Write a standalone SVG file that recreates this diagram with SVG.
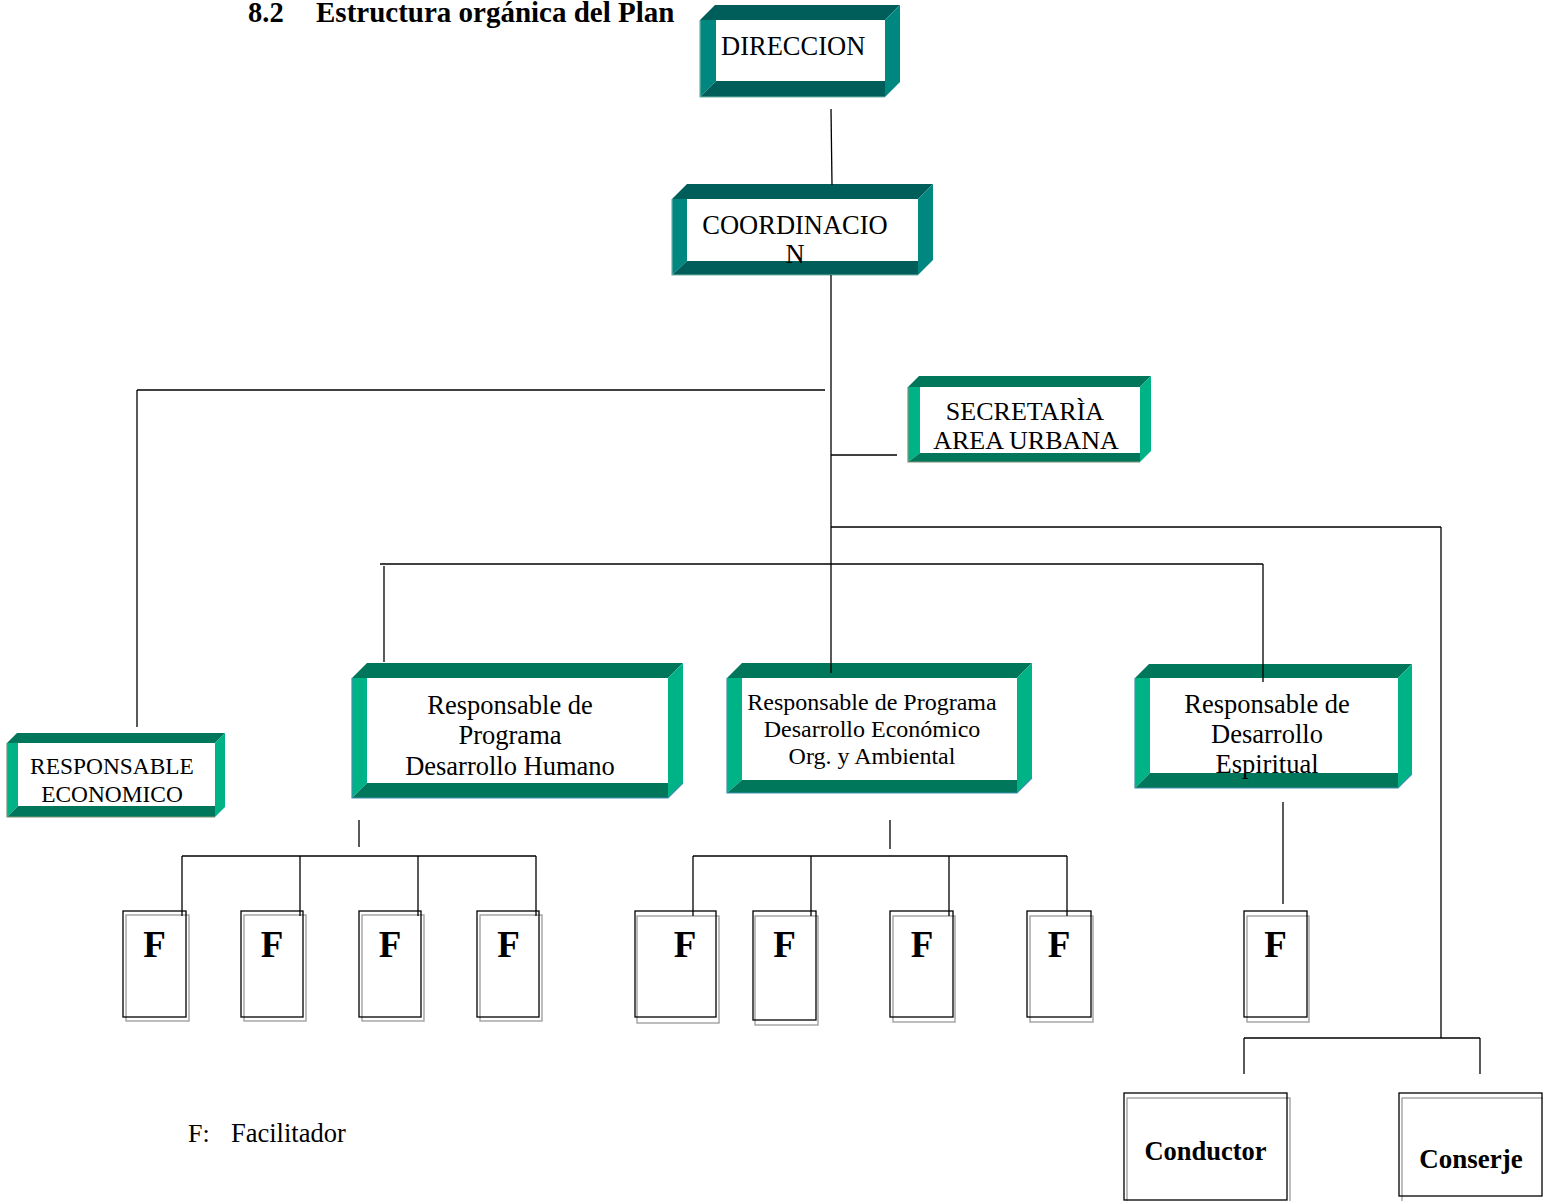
<svg xmlns="http://www.w3.org/2000/svg" width="1543" height="1201" viewBox="0 0 1543 1201">
<style>
  .bg{fill:#ffffff}
  .dk1{fill:#005e5a}
  .lt1{fill:#00877f}
  .dk2{fill:#00765a}
  .lt2{fill:#00b386}
  .ed1{stroke:#6fb3a8;stroke-width:1.2;fill:none}
  .ed2{stroke:#3f8fb0;stroke-width:1.2;fill:none}
  .ed3{stroke:#7d9272;stroke-width:1.2;fill:none}
  .w{fill:#ffffff}
  .ln{stroke:#000;stroke-width:1.3;fill:none}
  .fb{stroke:#000;stroke-width:1.3;fill:none}
  .fs{stroke:#9a9a9a;stroke-width:1.3;fill:none}
  .t{font-family:"Liberation Serif","Times New Roman",serif;fill:#000}
  .b{font-weight:bold}
</style>
<rect class="bg" x="0" y="0" width="1543" height="1201"/>

<text class="t b" x="248" y="22" font-size="28.5">8.2</text>
<text class="t b" x="316" y="22" font-size="29">Estructura orgánica del Plan</text>

<g id="direccion">
  <polygon class="dk1" points="700,20 715,5 900,5 885,20"/>
  <polygon class="lt1" points="885,20 900,5 900,82 885,97"/>
  <rect class="w" x="716" y="20" width="169" height="61"/>
  <polygon class="lt1" points="700,20 716,20 716,81 700,97"/>
  <polygon class="dk1" points="700,97 716,81 885,81 885,97"/>
  <polyline class="ed1" points="700,20 700,97 885,97"/>
  <text class="t" x="721" y="55" font-size="26.5">DIRECCION</text>
</g>

<g id="coordinacion">
  <polygon class="dk1" points="672,199 687,184 933,184 918,199"/>
  <polygon class="lt1" points="918,199 933,184 933,260 918,275"/>
  <rect class="w" x="687" y="199" width="231" height="62"/>
  <polygon class="lt1" points="672,199 687,199 687,261 672,275"/>
  <polygon class="dk1" points="672,275 687,261 918,261 918,275"/>
  <polyline class="ed1" points="672,199 672,275 918,275"/>
  <text class="t" x="795" y="234" font-size="26.5" text-anchor="middle">COORDINACIO</text>
  <text class="t" x="795" y="263" font-size="26.5" text-anchor="middle">N</text>
</g>

<g id="secretaria">
  <polygon class="dk2" points="908,387 919,376 1151,376 1140,387"/>
  <polygon class="lt2" points="1140,387 1151,376 1151,451 1140,462"/>
  <rect class="w" x="920" y="387" width="220" height="66"/>
  <polygon class="lt2" points="908,387 920,387 920,453 908,462"/>
  <polygon class="dk2" points="908,462 920,453 1140,453 1140,462"/>
  <polyline class="ed3" points="908,387 908,462 1140,462"/>
  <text class="t" x="1025" y="420" font-size="26" text-anchor="middle">SECRETARÌA</text>
  <text class="t" x="1026" y="449" font-size="26" text-anchor="middle">AREA URBANA</text>
</g>

<g id="resp-economico">
  <polygon class="dk2" points="7,743 17,733 225,733 215,743"/>
  <polygon class="lt2" points="215,743 225,733 225,807 215,817"/>
  <rect class="w" x="18" y="743" width="197" height="63"/>
  <polygon class="lt2" points="7,743 18,743 18,806 7,817"/>
  <polygon class="dk2" points="7,817 18,806 215,806 215,817"/>
  <polyline class="ed3" points="7,743 7,817 215,817"/>
  <text class="t" x="112" y="774" font-size="23.4" text-anchor="middle">RESPONSABLE</text>
  <text class="t" x="112" y="802" font-size="23.4" text-anchor="middle">ECONOMICO</text>
</g>

<g id="resp-humano">
  <polygon class="dk2" points="352,678 367,663 683,663 668,678"/>
  <polygon class="lt2" points="668,678 683,663 683,783 668,798"/>
  <rect class="w" x="367" y="678" width="301" height="105"/>
  <polygon class="lt2" points="352,678 367,678 367,783 352,798"/>
  <polygon class="dk2" points="352,798 367,783 668,783 668,798"/>
  <polyline class="ed2" points="352,678 352,798 668,798 683,783"/>
  <text class="t" x="510" y="714" font-size="26.5" text-anchor="middle">Responsable de</text>
  <text class="t" x="510" y="744" font-size="26.5" text-anchor="middle">Programa</text>
  <text class="t" x="510" y="775" font-size="26.5" text-anchor="middle">Desarrollo Humano</text>
</g>

<g id="resp-economico-org">
  <polygon class="dk2" points="727,678 742,663 1032,663 1017,678"/>
  <polygon class="lt2" points="1017,678 1032,663 1032,778 1017,793"/>
  <rect class="w" x="742" y="678" width="275" height="102"/>
  <polygon class="lt2" points="727,678 742,678 742,780 727,793"/>
  <polygon class="dk2" points="727,793 742,780 1017,780 1017,793"/>
  <polyline class="ed2" points="727,678 727,793 1017,793 1032,778"/>
  <text class="t" x="872" y="710" font-size="24" text-anchor="middle">Responsable de Programa</text>
  <text class="t" x="872" y="737" font-size="24" text-anchor="middle">Desarrollo Económico</text>
  <text class="t" x="872" y="764" font-size="24" text-anchor="middle">Org. y Ambiental</text>
</g>

<g id="resp-espiritual">
  <polygon class="dk2" points="1135,678 1149,664 1412,664 1398,678"/>
  <polygon class="lt2" points="1398,678 1412,664 1412,774 1398,788"/>
  <rect class="w" x="1150" y="678" width="248" height="95"/>
  <polygon class="lt2" points="1135,678 1150,678 1150,773 1135,788"/>
  <polygon class="dk2" points="1135,788 1150,773 1398,773 1398,788"/>
  <polyline class="ed2" points="1135,678 1135,788 1398,788 1412,774"/>
  <text class="t" x="1267" y="713" font-size="26.5" text-anchor="middle">Responsable de</text>
  <text class="t" x="1267" y="743" font-size="26.5" text-anchor="middle">Desarrollo</text>
  <text class="t" x="1267" y="773" font-size="26.5" text-anchor="middle">Espiritual</text>
</g>

<g id="f1">
  <rect class="fs" x="126" y="915" width="63" height="106"/>
  <rect class="fb" x="123" y="911" width="63" height="106"/>
  <text class="t b" x="154.5" y="957" font-size="37" text-anchor="middle">F</text>
</g>
<g id="f2">
  <rect class="fs" x="244" y="915" width="62" height="106"/>
  <rect class="fb" x="241" y="911" width="62" height="106"/>
  <text class="t b" x="272" y="957" font-size="37" text-anchor="middle">F</text>
</g>
<g id="f3">
  <rect class="fs" x="362" y="915" width="62" height="106"/>
  <rect class="fb" x="359" y="911" width="62" height="106"/>
  <text class="t b" x="390" y="957" font-size="37" text-anchor="middle">F</text>
</g>
<g id="f4">
  <rect class="fs" x="480" y="915" width="62" height="106"/>
  <rect class="fb" x="477" y="911" width="62" height="106"/>
  <text class="t b" x="508.5" y="957" font-size="37" text-anchor="middle">F</text>
</g>
<g id="f5">
  <rect class="fs" x="637" y="916" width="82" height="107"/>
  <rect class="fb" x="635" y="911" width="81" height="106"/>
  <text class="t b" x="685" y="957" font-size="37" text-anchor="middle">F</text>
</g>
<g id="f6">
  <rect class="fs" x="755" y="916" width="63" height="109"/>
  <rect class="fb" x="753" y="911" width="63" height="109"/>
  <text class="t b" x="784.5" y="957" font-size="37" text-anchor="middle">F</text>
</g>
<g id="f7">
  <rect class="fs" x="893" y="916" width="62" height="106"/>
  <rect class="fb" x="890" y="911" width="63" height="106"/>
  <text class="t b" x="922" y="957" font-size="37" text-anchor="middle">F</text>
</g>
<g id="f8">
  <rect class="fs" x="1030" y="916" width="63" height="106"/>
  <rect class="fb" x="1027" y="911" width="64" height="106"/>
  <text class="t b" x="1059" y="957" font-size="37" text-anchor="middle">F</text>
</g>
<g id="f9">
  <rect class="fs" x="1247" y="916" width="62" height="106"/>
  <rect class="fb" x="1244" y="911" width="63" height="106"/>
  <text class="t b" x="1275.5" y="957" font-size="37" text-anchor="middle">F</text>
</g>

<g id="conductor">
  <rect class="fs" x="1127" y="1098" width="163" height="106"/>
  <rect class="fb" x="1124" y="1093" width="163" height="107"/>
  <text class="t b" x="1205.5" y="1160" font-size="26.5" text-anchor="middle">Conductor</text>
</g>
<g id="conserje">
  <rect class="fs" x="1402" y="1098" width="143" height="106"/>
  <rect class="fb" x="1399" y="1093" width="143" height="103"/>
  <text class="t b" x="1471" y="1168" font-size="27" text-anchor="middle">Conserje</text>
</g>

<g id="connectors">
  <line class="ln" x1="831" y1="109" x2="832" y2="185"/>
  <line class="ln" x1="831" y1="275" x2="831" y2="673"/>
  <line class="ln" x1="137" y1="390" x2="825" y2="390"/>
  <line class="ln" x1="137" y1="390" x2="137" y2="727"/>
  <line class="ln" x1="831" y1="455" x2="897" y2="455"/>
  <line class="ln" x1="831" y1="527" x2="1441" y2="527"/>
  <line class="ln" x1="1441" y1="527" x2="1441" y2="1038"/>
  <line class="ln" x1="1244" y1="1038" x2="1480" y2="1038"/>
  <line class="ln" x1="1244" y1="1038" x2="1244" y2="1074"/>
  <line class="ln" x1="1480" y1="1038" x2="1480" y2="1074"/>
  <line class="ln" x1="380" y1="564" x2="1263" y2="564"/>
  <line class="ln" x1="384" y1="566" x2="384" y2="662"/>
  <line class="ln" x1="1263" y1="564" x2="1263" y2="682"/>
  <line class="ln" x1="359" y1="820" x2="359" y2="847"/>
  <line class="ln" x1="182" y1="856" x2="536" y2="856"/>
  <line class="ln" x1="182" y1="856" x2="182" y2="916"/>
  <line class="ln" x1="300" y1="856" x2="300" y2="916"/>
  <line class="ln" x1="418" y1="856" x2="418" y2="916"/>
  <line class="ln" x1="536" y1="856" x2="536" y2="916"/>
  <line class="ln" x1="890" y1="820" x2="890" y2="849"/>
  <line class="ln" x1="693" y1="856" x2="1067" y2="856"/>
  <line class="ln" x1="693" y1="856" x2="693" y2="916"/>
  <line class="ln" x1="811" y1="856" x2="811" y2="916"/>
  <line class="ln" x1="949" y1="856" x2="949" y2="916"/>
  <line class="ln" x1="1067" y1="856" x2="1067" y2="916"/>
  <line class="ln" x1="1283" y1="802" x2="1283" y2="904"/>
</g>

<text class="t" x="188" y="1142" font-size="26">F:</text>
<text class="t" x="231" y="1142" font-size="26.5">Facilitador</text>
</svg>
